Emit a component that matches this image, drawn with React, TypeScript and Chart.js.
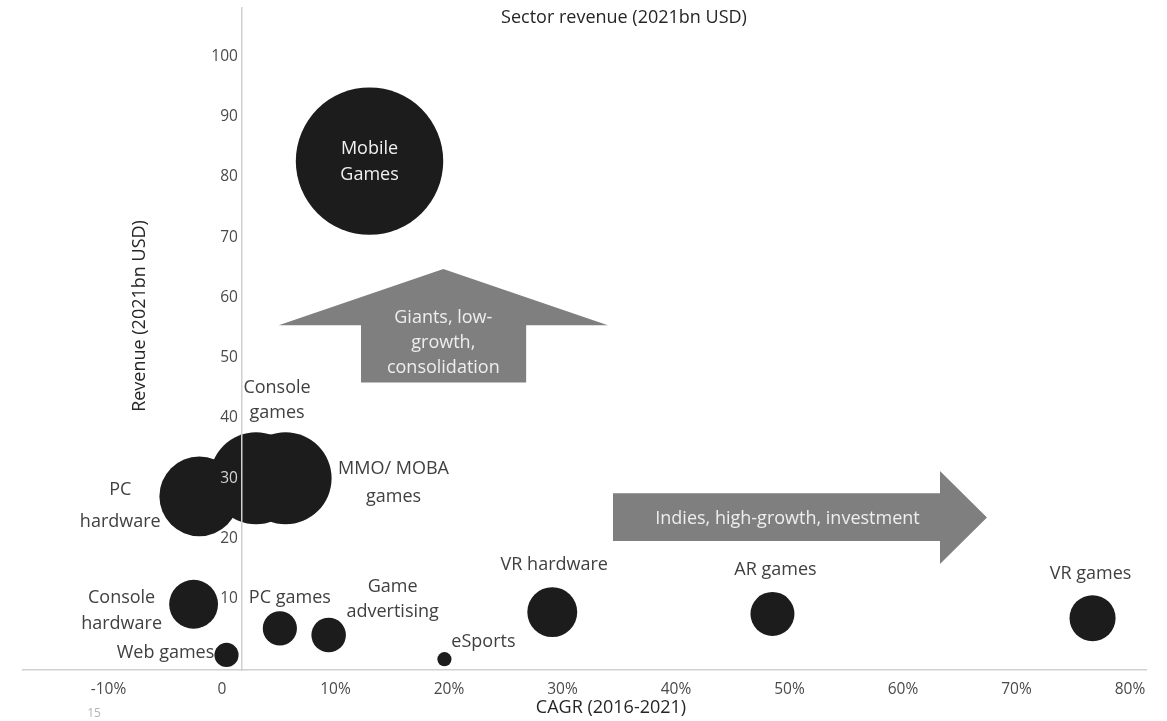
import React, { useEffect, useRef } from 'react';
import { Chart, registerables } from 'chart.js';

Chart.register(...registerables);

// Sectors of the games market ("\n" marks where the label wraps)
const sectors = [
  'Mobile\nGames',
  'Console\ngames',
  'MMO/ MOBA\ngames',
  'PC\nhardware',
  'Console\nhardware',
  'Web games',
  'PC games',
  'Game\nadvertising',
  'eSports',
  'VR hardware',
  'AR games',
  'VR games',
];

// CAGR 2016-2021 (fraction)
const cagr = [0.13, 0.03, 0.056, -0.02, -0.025, 0.004, 0.051, 0.094, 0.196, 0.291, 0.485, 0.767];

// Revenue 2021, bn USD
const revenue = [82.6, 30.0, 30.0, 27.0, 9.1, 0.7, 5.1, 4.0, 0.0, 7.8, 7.5, 6.8];

// Sector revenue 2021, bn USD (bubble size)
const sectorRevenue = [82, 32, 32, 24, 9, 2.2, 4.4, 4.5, 0.75, 9.4, 7.3, 8.0];

// Axis ticks
const xTickValues = [-0.1, 0, 0.1, 0.2, 0.3, 0.4, 0.5, 0.6, 0.7, 0.8];
const xTickLabels = ['-10%', '0', '10%', '20%', '30%', '40%', '50%', '60%', '70%', '80%'];
const yTickValues = [10, 20, 30, 40, 50, 60, 70, 80, 90, 100];

// ---- styling / layout -------------------------------------------------------
const FONT = '"Open Sans", "Noto Sans", sans-serif';
const BUBBLE_K = 8.14; // px radius per sqrt(bn USD)
const X_MIN = -0.1753;
const X_MAX = 0.8141;
const Y_MIN = -1.8;
const Y_MAX = 108;
const Y_AXIS_AT = 0.0176; // where the vertical axis crosses the CAGR axis

// label placement relative to the bubble centre (px)
const labelLayout = [
  { dx: 0, dy: -12, lh: 26, color: '#f0f0f0' },
  { dx: 21, dy: -90, lh: 25 },
  { dx: 108, dy: -9, lh: 28 },
  { dx: -79, dy: -6, lh: 32 },
  { dx: -72, dy: -6, lh: 26 },
  { dx: -61, dy: -2, lh: 0 },
  { dx: 10, dy: -31, lh: 0 },
  { dx: 64, dy: -48, lh: 25 },
  { dx: 39, dy: -17, lh: 0 },
  { dx: 2, dy: -47, lh: 0 },
  { dx: 3, dy: -44, lh: 0 },
  { dx: -2, dy: -44, lh: 0 },
];

// block arrows, in axis units
const upArrow = {
  tipX: 0.195, tipY: 64.7, headY: 55.4, headL: 0.05, headR: 0.34,
  bodyL: 0.1225, bodyR: 0.268, baseY: 45.9,
  lines: ['Giants, low-', 'growth,', 'consolidation'],
};
const rightArrow = {
  tipX: 0.674, tipY: 23.5, headX: 0.6326, headTop: 31.2, headBottom: 15.8,
  bodyTop: 27.5, bodyBottom: 19.6, baseX: 0.3445,
  text: 'Indies, high-growth, investment',
};

const ARROW_FILL = '#7f7f7f';
const ARROW_TEXT = '#eeeeee';
const LABEL_COLOR = '#404040';
const TICK_COLOR = '#4a4a4a';
const TICK_ON_DARK = '#d4d4d4';
const AXIS_COLOR = '#d0d0d0';

// y tick labels that sit on top of a bubble are drawn light so they stay legible
const yTickColor = (c: any) => {
  const chart = c.chart;
  if (!c.tick || !chart.scales.x) return TICK_COLOR;
  const lx = chart.scales.x.getPixelForValue(Y_AXIS_AT) - 11;
  const ly = c.scale.getPixelForValue(c.tick.value);
  const pts = chart.getDatasetMeta(0).data || [];
  const covered = pts.some((el: any) => {
    const rr = el.options ? el.options.radius : 0;
    return Math.hypot(el.x - lx, el.y - ly) < rr;
  });
  return covered ? TICK_ON_DARK : TICK_COLOR;
};

const overlayPlugin = {
  id: 'overlay',
  beforeDatasetsDraw(chart: any) {
    const { ctx, scales } = chart;
    const xs = scales.x;
    const ys = scales.y;
    const px = (v: number) => xs.getPixelForValue(v);
    const py = (v: number) => ys.getPixelForValue(v);
    ctx.save();
    ctx.fillStyle = ARROW_FILL;

    // upward arrow
    const u = upArrow;
    ctx.beginPath();
    ctx.moveTo(px(u.tipX), py(u.tipY));
    ctx.lineTo(px(u.headR), py(u.headY));
    ctx.lineTo(px(u.bodyR), py(u.headY));
    ctx.lineTo(px(u.bodyR), py(u.baseY));
    ctx.lineTo(px(u.bodyL), py(u.baseY));
    ctx.lineTo(px(u.bodyL), py(u.headY));
    ctx.lineTo(px(u.headL), py(u.headY));
    ctx.closePath();
    ctx.fill();

    // rightward arrow
    const r = rightArrow;
    ctx.beginPath();
    ctx.moveTo(px(r.baseX), py(r.bodyTop));
    ctx.lineTo(px(r.headX), py(r.bodyTop));
    ctx.lineTo(px(r.headX), py(r.headTop));
    ctx.lineTo(px(r.tipX), py(r.tipY));
    ctx.lineTo(px(r.headX), py(r.headBottom));
    ctx.lineTo(px(r.headX), py(r.bodyBottom));
    ctx.lineTo(px(r.baseX), py(r.bodyBottom));
    ctx.closePath();
    ctx.fill();

    ctx.fillStyle = ARROW_TEXT;
    ctx.font = `18px ${FONT}`;
    ctx.textAlign = 'center';
    ctx.textBaseline = 'middle';
    const uMid = (py(u.headY) + py(u.baseY)) / 2 - 11;
    u.lines.forEach((t, i) => ctx.fillText(t, px(u.tipX), uMid + (i - 1) * 25));
    const rMidX = (px(r.baseX) + px(r.headX)) / 2 + 11;
    const rMidY = (py(r.bodyTop) + py(r.bodyBottom)) / 2 + 2;
    ctx.fillText(r.text, rMidX, rMidY);
    ctx.restore();
  },
  afterDraw(chart: any) {
    const { ctx } = chart;
    const meta = chart.getDatasetMeta(0);
    ctx.save();
    ctx.textAlign = 'center';
    ctx.textBaseline = 'middle';
    ctx.font = `18px ${FONT}`;

    // bubble labels
    meta.data.forEach((el: any, i: number) => {
      const lay = labelLayout[i];
      ctx.fillStyle = lay.color || LABEL_COLOR;
      sectors[i].split('\n').forEach((line, k) => {
        ctx.fillText(line, el.x + lay.dx, el.y + lay.dy + k * lay.lh);
      });
    });

    // titles
    ctx.fillStyle = '#262626';
    ctx.fillText('Sector revenue (2021bn USD)', 624, 18);
    ctx.fillText('CAGR (2016-2021)', 611, 708);
    ctx.save();
    ctx.translate(140, 316);
    ctx.rotate(-Math.PI / 2);
    ctx.fillText('Revenue (2021bn USD)', 0, 0);
    ctx.restore();

    // page number
    ctx.fillStyle = '#b4b4b4';
    ctx.font = `12px ${FONT}`;
    ctx.fillText('15', 94, 714);
    ctx.restore();
  },
};

const zeroPadding = (s: any) => {
  s.paddingLeft = 0;
  s.paddingRight = 0;
  s.paddingTop = 0;
  s.paddingBottom = 0;
};

export default function App() {
  const ref = useRef<HTMLCanvasElement>(null);

  useEffect(() => {
    if (!ref.current) return;
    const chart = new Chart(ref.current, {
      type: 'bubble',
      data: {
        labels: sectors,
        datasets: [
          {
            data: cagr.map((x, i) => ({
              x,
              y: revenue[i],
              r: BUBBLE_K * Math.sqrt(sectorRevenue[i]),
            })),
            backgroundColor: '#1c1c1c',
            borderWidth: 0,
            hoverRadius: 0,
            clip: false,
          } as any,
        ],
      },
      options: {
        responsive: false,
        animation: false,
        devicePixelRatio: 1,
        events: [],
        layout: {
          autoPadding: false,
          padding: { top: 8, bottom: 51, left: 23, right: 21 },
        },
        plugins: {
          legend: { display: false },
          tooltip: { enabled: false },
          title: { display: false },
        },
        scales: {
          x: {
            type: 'linear',
            min: X_MIN,
            max: X_MAX,
            position: { y: Y_MIN } as any,
            grid: {
              display: true,
              drawOnChartArea: false,
              drawTicks: true,
              tickLength: 7,
              color: 'rgba(0,0,0,0)',
            },
            border: { display: true, color: AXIS_COLOR, width: 1.5, z: 1 },
            afterBuildTicks: (s: any) => {
              s.ticks = xTickValues.map((v) => ({ value: v }));
            },
            afterFit: zeroPadding,
            ticks: {
              z: 1,
              autoSkip: false,
              maxRotation: 0,
              color: TICK_COLOR,
              font: { family: FONT, size: 15.5 },
              callback: (v: any) => {
                const k = xTickValues.findIndex((t) => Math.abs(t - Number(v)) < 1e-9);
                return k >= 0 ? xTickLabels[k] : '';
              },
            },
          },
          y: {
            type: 'linear',
            min: Y_MIN,
            max: Y_MAX,
            position: { x: Y_AXIS_AT } as any,
            grid: {
              display: true,
              drawOnChartArea: false,
              drawTicks: true,
              tickLength: 0,
              color: 'rgba(0,0,0,0)',
            },
            border: { display: true, color: AXIS_COLOR, width: 1.5, z: 1 },
            afterBuildTicks: (s: any) => {
              s.ticks = yTickValues.map((v) => ({ value: v }));
            },
            afterFit: zeroPadding,
            ticks: {
              z: 1,
              autoSkip: false,
              color: yTickColor as any,
              font: { family: FONT, size: 15.5 },
              callback: (v: any) => `${v} `,
            },
          },
        },
      },
      plugins: [overlayPlugin],
    });
    return () => chart.destroy();
  }, []);

  return (
    <div
      style={{
        position: 'absolute',
        left: 0,
        top: 0,
        width: 1167,
        height: 721,
        background: '#ffffff',
      }}
    >
      <canvas ref={ref} width={1167} height={721} style={{ display: 'block' }} />
    </div>
  );
}
